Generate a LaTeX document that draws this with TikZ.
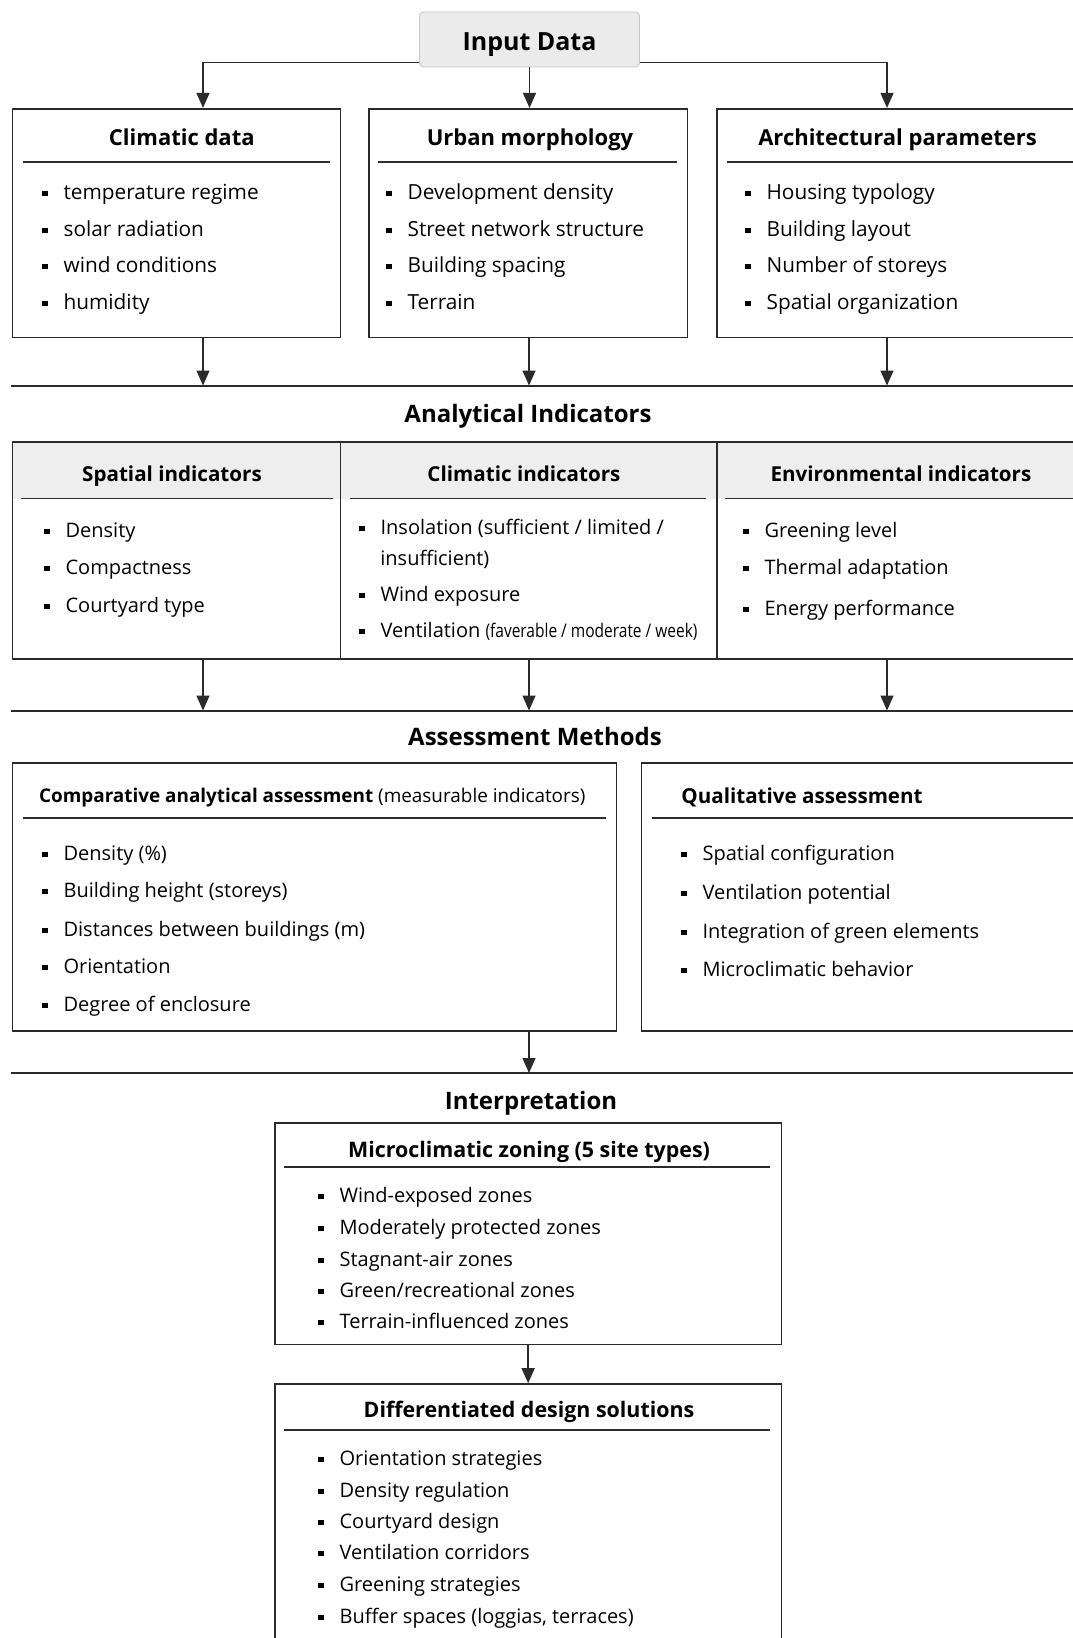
\documentclass[tikz,border=0pt]{standalone}
\usepackage{fontspec}
\setmainfont{Open Sans}
\usetikzlibrary{shapes,arrows.meta}
\definecolor{ink}{HTML}{2B2B2B}
\definecolor{hdgray}{HTML}{EEEEEE}
\newcommand{\bul}{\rule[1.6pt]{2.6pt}{2.6pt}\hspace{8pt}}
\newcommand{\fsz}[1]{\fontsize{#1}{#1}\selectfont}

\begin{document}
\begin{tikzpicture}[x=0.5pt,y=-0.5pt,
  box/.style={draw=ink,line width=0.8pt,inner sep=0pt},
  ttl/.style={font=\bfseries\fsz{11},text height=10.5pt,text depth=2.2pt,inner sep=0pt},
  sub/.style={font=\bfseries\fsz{10.3},text height=10pt,text depth=2pt,inner sep=0pt},
  hd/.style={font=\bfseries\fsz{12},text height=11.1pt,text depth=2.4pt,inner sep=0pt},
  itm/.style={anchor=west,inner sep=0pt,text height=8pt,text depth=0pt,text=black,font=\fsz{10.4}},
  rul/.style={draw=ink,line width=0.75pt},
  sep/.style={draw=ink,line width=1pt},
  arr/.style={->,draw=ink,line width=0.7pt},
  >={Triangle[length=7.5pt,width=6.5pt]}]

\useasboundingbox[fill=white] (0,0) rectangle (1072,1638);

% columns and separator levels
\coordinate (cA) at (203,0);
\coordinate (cB) at (529,0);
\coordinate (cC) at (887,0);
\coordinate (s1) at (0,385.5);
\coordinate (s2) at (0,710.5);
\coordinate (s3) at (0,1073);

% input data
\node[draw=black!22,fill=black!8,rounded corners=2pt,minimum width=110pt,minimum height=27.5pt,
  text height=10.8pt,text depth=0pt,font=\bfseries\fsz{12.5}] (inp) at (529.5,39.5) {Input Data};

\node[box,minimum width=164.05pt,minimum height=114.4pt] (clim) at (176.55,223.1) {};
\node[box,minimum width=159.35pt,minimum height=114.4pt] (urb) at (528.15,223.1) {};
\node[box,minimum width=196.65pt,minimum height=114.4pt] (arch) at (913.35,223.1) {};

\draw[arr] ([yshift=2.5pt]inp.south west) -| (cA |- clim.north);
\draw[arr] ([yshift=2.5pt]inp.south east) -| (cC |- arch.north);
\draw[arr] (inp.south) -- (inp.south |- urb.north);

\node[ttl] (climT) at (181.8,137) {Climatic data};
\node[ttl] (urbT) at (530,137) {Urban morphology};
\node[ttl] (archT) at (897.5,137) {Architectural parameters};
\draw[rul] (23,162) -- (330,162);
\draw[rul] (378,162) -- (677,162);
\draw[rul] (727,162) -- (1080,162);

\node[itm] (clim1) at (42,191) {\bul temperature regime};
\node[itm] (clim2) at (42,228) {\bul solar radiation};
\node[itm] (clim3) at (42,264) {\bul wind conditions};
\node[itm] (clim4) at (42,301) {\bul humidity};

\node[itm] (urb1) at (386,191) {\bul Development density};
\node[itm] (urb2) at (386,228) {\bul Street network structure};
\node[itm] (urb3) at (386,264) {\bul Building spacing};
\node[itm] (urb4) at (386,301) {\bul Terrain};

\node[itm] (arch1) at (745,191) {\bul Housing typology};
\node[itm] (arch2) at (745,228) {\bul Building layout};
\node[itm] (arch3) at (745,264) {\bul Number of storeys};
\node[itm] (arch4) at (745,301) {\bul Spatial organization};

\draw[arr] (cA |- clim.south) -- (cA |- s1);
\draw[arr] (cB |- urb.south) -- (cB |- s1);
\draw[arr] (cC |- arch.south) -- (cC |- s1);
\draw[sep] (10.5,385.5) -- (1080,385.5);

% analytical indicators
\node[hd] (anaH) at (528,414) {Analytical Indicators};

\fill[hdgray] (12.5,442) rectangle (1080,499);
\node[box,minimum width=164.05pt,minimum height=108.5pt] (spat) at (176.55,550.5) {};
\node[box,minimum width=188.05pt,minimum height=108.5pt] (cli) at (528.65,550.5) {};
\node[box,minimum width=196.65pt,minimum height=108.5pt] (env) at (913.35,550.5) {};

\node[sub] (spatT) at (172,473) {Spatial indicators};
\node[sub] (cliT) at (524,473) {Climatic indicators};
\node[sub] (envT) at (901,473) {Environmental indicators};
\draw[rul] (21,498.5) -- (333,498.5);
\draw[rul] (350,498.5) -- (706,498.5);
\draw[rul] (725,498.5) -- (1080,498.5);

\node[itm,font=\fsz{10}] (spat1) at (44,529) {\bul Density};
\node[itm,font=\fsz{10}] (spat2) at (44,566) {\bul Compactness};
\node[itm,font=\fsz{10}] (spat3) at (44,604) {\bul Courtyard type};

\node[itm,font=\fsz{10}] (cli1) at (359,526.6) {\bul Insolation (sufficient / limited /};
\node[itm,font=\fsz{10}] (cli1b) at (380,557) {insufficient)};
\node[itm,font=\fsz{10}] (cli2) at (359,593.4) {\bul Wind exposure};
\node[itm,font=\fsz{10}] (cli3) at (359,629) {\bul Ventilation
  \resizebox{106pt}{\height}{\fsz{9.4}(faverable / moderate / week)}};

\node[itm,font=\fsz{10}] (env1) at (743,529) {\bul Greening level};
\node[itm,font=\fsz{10}] (env2) at (743,566) {\bul Thermal adaptation};
\node[itm,font=\fsz{10}] (env3) at (743,607) {\bul Energy performance};

\draw[arr] (cA |- spat.south) -- (cA |- s2);
\draw[arr] (cB |- cli.south) -- (cB |- s2);
\draw[arr] (cC |- env.south) -- (cC |- s2);
\draw[sep] (10.5,710.5) -- (1080,710.5);

% assessment methods
\node[hd] (assH) at (535,736.6) {Assessment Methods};

\node[box,minimum width=301.95pt,minimum height=134.15pt] (comp) at (314.45,896.85) {};
\node[box,minimum width=234.25pt,minimum height=134.15pt] (qual) at (875.75,896.85) {};

\node[sub,anchor=west,font=\fsz{9.45}] (compT) at (38.7,794)
  {\textbf{Comparative analytical assessment} (measurable indicators)};
\node[sub,anchor=west] (qualT) at (681,795) {Qualitative assessment};
\draw[rul] (23,818) -- (606,818);
\draw[rul] (652,818) -- (1080,818);

\node[itm,font=\fsz{10}] (comp1) at (42,852.6) {\bul Density (\%)};
\node[itm,font=\fsz{10}] (comp2) at (42,889) {\bul Building height (storeys)};
\node[itm,font=\fsz{10}] (comp3) at (42,928) {\bul Distances between buildings (m)};
\node[itm,font=\fsz{10}] (comp4) at (42,965.4) {\bul Orientation};
\node[itm,font=\fsz{10}] (comp5) at (42,1003) {\bul Degree of enclosure};

\node[itm,font=\fsz{10}] (qual1) at (681,852.6) {\bul Spatial configuration};
\node[itm,font=\fsz{10}] (qual2) at (681,891) {\bul Ventilation potential};
\node[itm,font=\fsz{10}] (qual3) at (681,930) {\bul Integration of green elements};
\node[itm,font=\fsz{10}] (qual4) at (681,968.5) {\bul Microclimatic behavior};

\draw[arr] (cB |- comp.south) -- (cB |- s3);
\draw[sep] (10.5,1073) -- (1080,1073);

% interpretation
\node[hd] (intH) at (531,1101) {Interpretation};

\node[box,minimum width=253.35pt,minimum height=110.8pt] (micro) at (528.15,1233.8) {};
\node[box,minimum width=253.35pt,minimum height=158pt] (diff) at (528.15,1542) {};
\draw[arr] (micro.south) -- (diff.north);

\node[ttl,font=\bfseries\fsz{10.7}] (microT) at (529,1149) {Microclimatic zoning (5 site types)};
\draw[rul] (284,1167) -- (770,1167);
\node[itm,font=\fsz{10}] (micro1) at (318,1194) {\bul Wind-exposed zones};
\node[itm,font=\fsz{10}] (micro2) at (318,1226.6) {\bul Moderately protected zones};
\node[itm,font=\fsz{10}] (micro3) at (318,1258) {\bul Stagnant-air zones};
\node[itm,font=\fsz{10}] (micro4) at (318,1289) {\bul Green/recreational zones};
\node[itm,font=\fsz{10}] (micro5) at (318,1320.6) {\bul Terrain-influenced zones};

\node[ttl,font=\bfseries\fsz{10.7}] (diffT) at (529,1409.5) {Differentiated design solutions};
\draw[rul] (284,1430) -- (770,1430);
\node[itm,font=\fsz{10}] (diff1) at (318,1457.5) {\bul Orientation strategies};
\node[itm,font=\fsz{10}] (diff2) at (318,1489) {\bul Density regulation};
\node[itm,font=\fsz{10}] (diff3) at (318,1520) {\bul Courtyard design};
\node[itm,font=\fsz{10}] (diff4) at (318,1551.5) {\bul Ventilation corridors};
\node[itm,font=\fsz{10}] (diff5) at (318,1583) {\bul Greening strategies};
\node[itm,font=\fsz{10}] (diff6) at (318,1615) {\bul Buffer spaces (loggias, terraces)};
\end{tikzpicture}
\end{document}
